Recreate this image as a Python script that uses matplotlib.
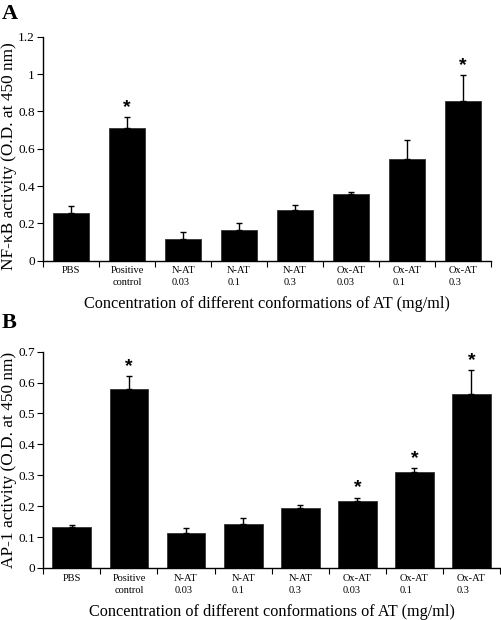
import matplotlib
matplotlib.use("Agg")
import matplotlib.pyplot as plt
import numpy as np

categories = ["PBS", "Positive\ncontrol", "N-AT\n0.03", "N-AT\n0.1", "N-AT\n0.3",
              "Ox-AT\n0.03", "Ox-AT\n0.1", "Ox-AT\n0.3"]
nfkb_values = [0.255, 0.709, 0.114, 0.163, 0.270, 0.355, 0.543, 0.854]
nfkb_errors = [0.036, 0.059, 0.041, 0.037, 0.030, 0.011, 0.105, 0.141]
nfkb_sig = [False, True, False, False, False, False, False, True]
ap1_values = [0.132, 0.580, 0.112, 0.142, 0.194, 0.216, 0.312, 0.562]
ap1_errors = [0.007, 0.041, 0.018, 0.019, 0.011, 0.011, 0.011, 0.078]
ap1_sig = [False, True, False, False, False, True, True, True]
nfkb_yticks = [0, 0.2, 0.4, 0.6, 0.8, 1.0, 1.2]
nfkb_yticklabels = ["0", "0.2", "0.4", "0.6", "0.8", "1", "1.2"]
ap1_yticks = [0, 0.1, 0.2, 0.3, 0.4, 0.5, 0.6, 0.7]
ap1_yticklabels = ["0", "0.1", "0.2", "0.3", "0.4", "0.5", "0.6", "0.7"]
xlabel = "Concentration of different conformations of AT (mg/ml)"

plt.rcParams['font.family'] = ['Liberation Serif', 'DejaVu Serif']

W, H = 502, 620
fig = plt.figure(figsize=(W / 100, H / 100), dpi=100)
axA = fig.add_axes([0.0863, 0.5795, 0.8912, 0.3613])
axB = fig.add_axes([0.0863, 0.0839, 0.9097, 0.3489])


def draw(ax, vals, errs, sig, yticks, yticklabels, ylabel, width, ylabel_y, xlabelpad):
    n = len(vals)
    x = np.arange(n)
    ax.bar(x, vals, width=width, color="black", edgecolor="#333333", linewidth=0.6, zorder=2)
    ax.errorbar(x, vals, yerr=[np.zeros(n), errs], fmt="none", ecolor="black",
                elinewidth=1.0, capsize=2.2, capthick=1.0, zorder=3)
    for i in range(n):
        if sig[i]:
            ax.annotate("*", xy=(x[i], vals[i] + errs[i]), xytext=(0, 1),
                        textcoords="offset points", ha="center", va="bottom",
                        fontsize=14, fontweight="bold", family=["Liberation Sans"])
    ax.set_xlim(-0.5, n - 0.5)
    ax.set_ylim(yticks[0], yticks[-1])
    ax.spines["top"].set_visible(False)
    ax.spines["right"].set_visible(False)
    ax.spines["left"].set_linewidth(1.0)
    ax.spines["bottom"].set_linewidth(1.0)
    ax.set_yticks(yticks)
    ax.set_yticklabels(yticklabels, fontsize=9.5)
    ax.tick_params(axis="y", direction="out", length=4, width=0.8, pad=2)
    ax.set_xticks(np.arange(n + 1) - 0.5)
    ax.set_xticklabels([])
    ax.tick_params(axis="x", which="major", direction="out", length=4, width=0.8)
    ax.set_xticks(x, minor=True)
    ax.set_xticklabels(categories, minor=True, fontsize=7.5, linespacing=1.45)
    ax.tick_params(axis="x", which="minor", length=0, pad=4)
    for lab in ax.get_xticklabels(minor=True):
        if lab.get_text().startswith(("N-", "Ox-")):
            lab.set_multialignment("left")
        else:
            lab.set_multialignment("center")
    ax.set_ylabel(ylabel, fontsize=12.4)
    ax_w_px = ax.get_position().width * W
    ax.yaxis.set_label_coords(-26.0 / ax_w_px, ylabel_y)
    ax.set_xlabel(xlabel, fontsize=11.7, labelpad=xlabelpad)


draw(axA, nfkb_values, nfkb_errors, nfkb_sig, nfkb_yticks, nfkb_yticklabels,
     "NF-κB activity (O.D. at 450 nm)", 0.64, 0.465, 6)
draw(axB, ap1_values, ap1_errors, ap1_sig, ap1_yticks, ap1_yticklabels,
     "AP-1 activity (O.D. at 450 nm)", 0.68, 0.5, 6.5)

fig.text(2 / W, 1 - 4 / H, "A", fontsize=16, fontweight="bold", va="top", ha="left")
fig.text(2 / W, 1 - 313 / H, "B", fontsize=16, fontweight="bold", va="top", ha="left")

fig.savefig("out.png", dpi=100)
